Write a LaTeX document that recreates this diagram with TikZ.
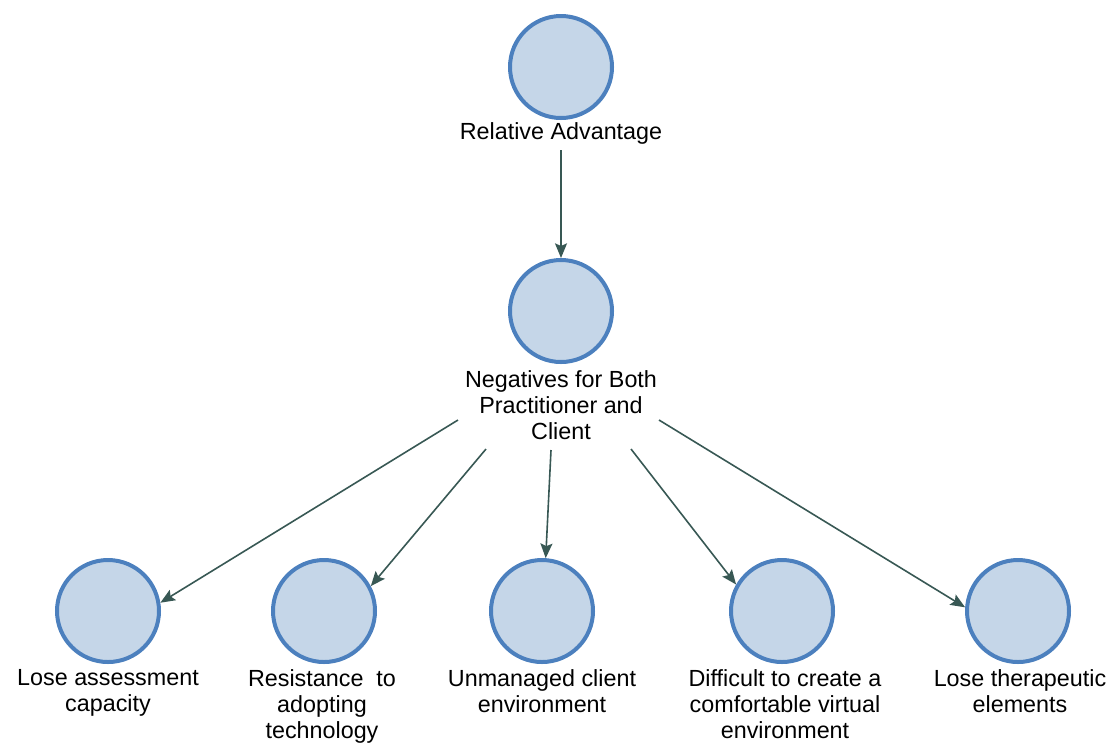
\documentclass[tikz,border=0pt]{standalone}
\usepackage{fontspec}
\setmainfont{Liberation Sans}
\usetikzlibrary{arrows.meta}
\definecolor{nodefill}{RGB}{197,214,232}
\definecolor{nodeline}{RGB}{76,128,190}
\definecolor{linkcol}{RGB}{56,88,84}
\begin{document}
\begin{tikzpicture}[x=0.75pt,y=-0.75pt,
  bubble/.style={circle,draw=nodeline,fill=nodefill,line width=3pt,minimum size=76.5pt,inner sep=0pt},
  caption/.style={anchor=north,align=center,inner sep=0pt,font=\fontsize{17.5}{19.5}\selectfont},
  link/.style={draw=linkcol,line width=1.2pt,-{Stealth[length=11pt,width=9pt,inset=2pt]}}]
\useasboundingbox (0,0) rectangle (1112,744);

% top level
\node[bubble] (top) at (561,67) {};
\node[caption] (ltop) at (561,122) {Relative Advantage};

% middle level
\node[bubble] (mid) at (561,311) {};
\node[caption] (lmid) at (561,370) {Negatives for Both\\Practitioner and\\Client};

% bottom level
\node[bubble] (c1) at (108,611) {};
\node[bubble] (c2) at (324,611) {};
\node[bubble] (c3) at (542,611) {};
\node[bubble] (c4) at (782,611) {};
\node[bubble] (c5) at (1018,611) {};

\node[caption] (l1) at (108,669) {Lose assessment\\capacity};
\node[caption] (l2) at (322,669) {Resistance\ \ to\\adopting\\technology};
\node[caption] (l3) at (542,669) {Unmanaged client\\environment};
\node[caption] (l4) at (785,669) {Difficult to create a\\comfortable virtual\\environment};
\node[caption] (l5) at (1020,669) {Lose therapeutic\\elements};

% connector start points
\coordinate (s0) at (561,150);
\coordinate (s1) at (458,420);
\coordinate (s2) at (486,449);
\coordinate (s3) at (551,450);
\coordinate (s4) at (631,449);
\coordinate (s5) at (659,420);

\draw[link] (s0) -- (mid.north);
\draw[link] (s1) -- (c1.9);
\draw[link] (s2) -- (c2.28);
\draw[link] (s3) -- (c3.86);
\draw[link] (s4) -- (c4.150);
\draw[link] (s5) -- (c5.176);
\end{tikzpicture}
\end{document}
